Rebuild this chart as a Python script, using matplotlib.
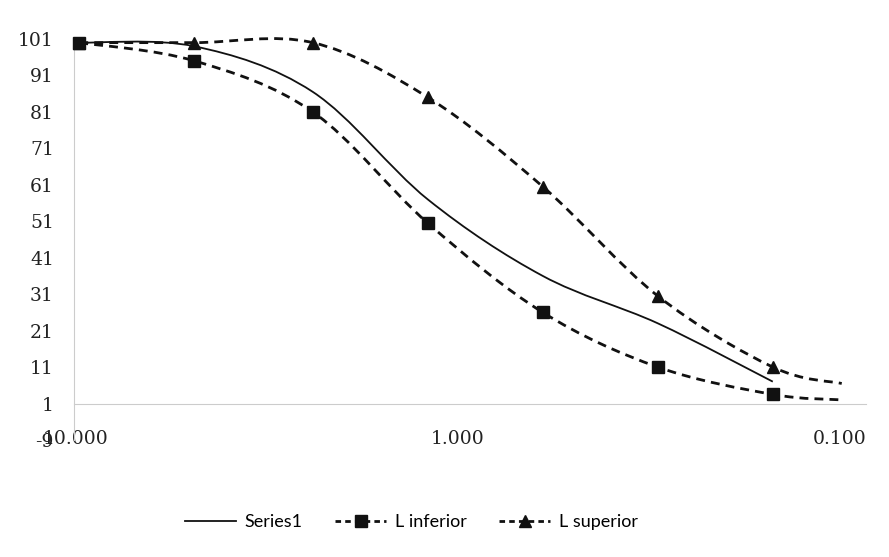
import numpy as np
import matplotlib
matplotlib.use("Agg")
import matplotlib.pyplot as plt
from matplotlib.path import Path
from matplotlib.patches import PathPatch
from matplotlib.lines import Line2D
from matplotlib.ticker import FixedLocator, FuncFormatter, NullLocator

plt.rcParams["axes.unicode_minus"] = False

# concentrations (two-fold dilutions) and responses
conc = [9.8, 4.9, 2.4, 1.2, 0.6, 0.3, 0.15]
conc_ext = conc + [0.099]
series1 = [100, 99, 86.5, 57, 36, 23, 7]
l_inferior = [100, 95, 81, 50.5, 26, 11, 3.5, 2]
l_superior = [100, 100, 100, 85, 60.5, 30.5, 11, 6.5]

y_ticks = [-9, 1, 11, 21, 31, 41, 51, 61, 71, 81, 91, 101]
x_ticks = [10.0, 1.0, 0.1]


def smooth_path(xs, ys):
    # Bezier segments like Excel's "smoothed line", built in log-x space
    u = np.log10(np.asarray(xs, dtype=float))
    v = np.asarray(ys, dtype=float)
    pts = np.column_stack([u, v])
    n = len(pts)
    verts = [pts[0]]
    codes = [Path.MOVETO]
    for i in range(n - 1):
        p0 = pts[max(i - 1, 0)]
        p1 = pts[i]
        p2 = pts[i + 1]
        p3 = pts[min(i + 2, n - 1)]
        c1 = p1 + (p2 - p0) / 6.0
        c2 = p2 - (p3 - p1) / 6.0
        verts += [c1, c2, p2]
        codes += [Path.CURVE4] * 3
    verts = np.array(verts)
    verts[:, 0] = 10 ** verts[:, 0]
    return Path(verts, codes)


fig = plt.figure(figsize=(8.89, 5.57), dpi=100)
ax = fig.add_axes([0.0832, 0.2101, 0.891, 0.7199])

ax.set_xscale("log")
ax.set_xlim(10.12, 0.0855)
ax.set_ylim(-9, 101)

dash = (0, (3.2, 2.2))
for xs, ys, ls, lw in [
    (conc, series1, "-", 1.3),
    (conc_ext, l_inferior, dash, 2.0),
    (conc_ext, l_superior, dash, 2.0),
]:
    ax.add_patch(PathPatch(smooth_path(xs, ys), fill=False, edgecolor="#111111",
                           linewidth=lw, linestyle=ls, clip_on=False, zorder=3))

ax.plot(conc, l_superior[:len(conc)], linestyle="none", marker="^", markersize=8,
        color="#111111", clip_on=False, zorder=4)
ax.plot(conc, l_inferior[:len(conc)], linestyle="none", marker="s", markersize=8,
        color="#111111", clip_on=False, zorder=5)

# axes styling
for side in ["top", "right"]:
    ax.spines[side].set_visible(False)
ax.spines["bottom"].set_position(("data", 1))
ax.spines["bottom"].set_color("#cccccc")
ax.spines["left"].set_color("#cccccc")

ax.yaxis.set_major_locator(FixedLocator(y_ticks))
ax.xaxis.set_major_locator(FixedLocator(x_ticks))
ax.xaxis.set_minor_locator(NullLocator())
ax.xaxis.set_major_formatter(FuncFormatter(lambda v, p: f"{v:.3f}"))
ax.tick_params(axis="both", length=0, labelsize=13.5, colors="#222222")
ax.tick_params(axis="y", pad=14.5)
ax.tick_params(axis="x", pad=19)
for lab in ax.get_xticklabels() + ax.get_yticklabels():
    lab.set_family("DejaVu Serif")
ax.yaxis.set_zorder(2.6)

handles = [
    Line2D([], [], color="#111111", linewidth=1.3),
    Line2D([], [], color="#111111", linewidth=2.0, linestyle=(0, (2, 1.5)),
           marker="s", markersize=8),
    Line2D([], [], color="#111111", linewidth=2.0, linestyle=(0, (2, 1.5)),
           marker="^", markersize=8),
]
fig.legend(handles, ["Series1", "L inferior", "L superior"], loc="center",
           bbox_to_anchor=(0.463, 0.063), ncol=3, frameon=False,
           handlelength=2.8, columnspacing=1.8, handletextpad=0.5,
           prop={"family": "Lato", "size": 13})

fig.savefig("out.png", dpi=100)
